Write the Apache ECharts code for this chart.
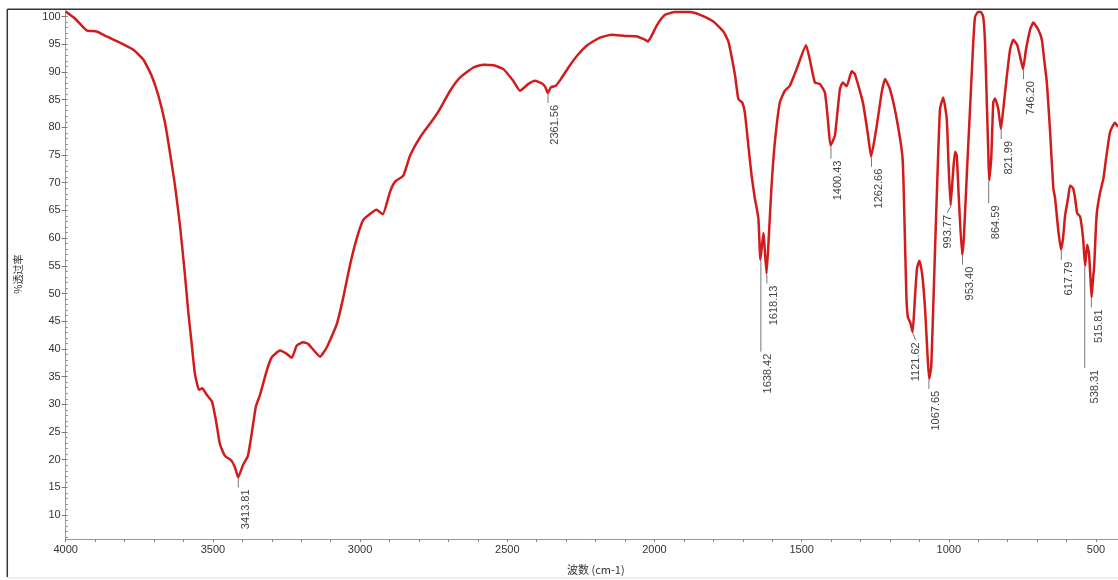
<!DOCTYPE html>
<html>
<head>
<meta charset="utf-8">
<script src="https://cdn.jsdelivr.net/npm/echarts@6/dist/echarts.min.js"></script>
<style>
html,body{margin:0;padding:0;background:#fff;}
#chart{width:1118px;height:580px;}
</style>
</head>
<body>
<div id="chart"></div>
<script>
// ---- data ----
const wavenumber = [4000,3968,3929,3895,3861,3816,3770,3736,3708,3685,3663,3646,3629,3612,3595,3584,3572,3561,3547,3536,3522,3503,3489,3476,3459,3438,3425,3414,3398,3381,3367,3354,3340,3317,3300,3272,3249,3232,3215,3193,3176,3136,3113,3079,3057,3034,3011,2989,2955,2944,2923,2898,2881,2853,2830,2796,2751,2729,2694,2660,2615,2581,2547,2513,2480,2457,2429,2406,2382,2371,2362,2352,2335,2318,2287,2260,2226,2185,2144,2100,2059,2032,2022,2008,1991,1964,1930,1879,1845,1800,1766,1749,1738,1726,1715,1702,1693,1681,1670,1659,1647,1640,1630,1619,1610,1602,1591,1574,1557,1540,1517,1485,1472,1455,1438,1421,1411,1402,1387,1370,1360,1347,1330,1319,1292,1275,1264,1245,1228,1217,1200,1177,1157,1150,1144,1139,1131,1123,1115,1108,1100,1091,1081,1072,1067,1060,1054,1047,1040,1030,1019,1007,1001,994,986,979,973,966,955,949,938,928,917,911,901,891,883,877,871,866,863,856,849,843,832,823,815,803,792,781,768,758,748,738,724,713,696,684,676,667,656,645,639,629,619,612,605,595,588,578,571,564,554,544,537,530,524,519,515,511,506,498,487,475,466,452,436,425];
const transmittance = [100.9,99.6,97.5,97.3,96.4,95.3,94.0,92.2,89.3,85.7,80.9,75.5,69.6,62.4,53.4,46.9,40.9,35.5,32.6,32.9,31.8,30.5,26.9,22.8,20.7,19.9,18.6,16.8,19.0,20.7,25.1,29.6,31.7,36.1,38.5,39.7,39.1,38.4,40.6,41.2,40.9,38.6,40.3,44.5,49.3,55.2,60.0,63.3,64.8,65.1,64.3,68.4,70.2,71.3,74.9,78.2,81.5,83.3,86.6,89.0,90.8,91.3,91.2,90.5,88.4,86.6,87.8,88.4,87.9,87.3,86.2,87.2,87.5,88.7,91.2,93.1,94.9,96.2,96.7,96.5,96.4,95.8,95.5,96.7,98.5,100.3,100.8,100.8,100.3,99.1,97.3,95.5,92.8,89.3,85.1,84.5,82.7,76.7,71.3,67.2,63.6,56.1,60.9,53.6,61.8,69.6,77.3,84.5,86.6,87.5,90.5,94.8,92.2,88.1,87.8,86.3,81.5,76.7,78.5,86.9,88.1,87.4,90.1,89.6,84.5,78.8,74.7,80.2,86.3,88.7,86.9,81.5,74.3,61.8,49.3,45.7,44.8,43.0,49.3,54.6,55.9,53.7,47.5,38.5,34.6,36.7,45.7,57.7,69.0,83.3,85.4,81.5,73.4,65.9,71.6,75.6,74.9,67.2,57.0,60.0,72.5,83.3,95.3,99.9,100.8,100.8,99.9,95.3,84.5,75.6,70.4,74.3,84.5,85.2,83.3,79.7,83.3,89.2,94.0,95.8,94.9,92.8,90.5,94.0,97.6,98.9,97.6,95.8,92.2,88.1,79.2,69.0,67.2,61.8,57.9,60.0,64.1,67.2,69.5,69.0,67.2,64.5,63.9,60.0,55.0,58.8,57.3,52.9,49.3,52.0,55.2,64.1,68.0,70.7,74.3,79.2,80.8,80.1];

const peakWn = [3413.81,2361.56,1638.42,1618.13,1400.43,1262.66,1121.62,1067.65,993.77,953.40,864.59,821.99,746.20,617.79,538.31,515.81];
const peakT = [16.8,86.2,56.1,53.6,76.7,74.7,43.0,34.6,65.9,57.0,70.4,79.7,90.5,57.9,55.0,49.3];
const peakLabel = ['3413.81','2361.56','1638.42','1618.13','1400.43','1262.66','1121.62','1067.65','993.77','953.40','864.59','821.99','746.20','617.79','538.31','515.81'];

const xTickLabels = [4000,3500,3000,2500,2000,1500,1000,500];
const xMinorTicks = [4000,3900,3800,3700,3600,3500,3400,3300,3200,3100,3000,2900,2800,2700,2600,2500,2400,2300,2200,2100,2000,1900,1800,1700,1600,1500,1400,1300,1200,1100,1000,900,800,700,600,500];
const yTickLabels = [10,15,20,25,30,35,40,45,50,55,60,65,70,75,80,85,90,95,100];

// ---- layout of the peak annotations (not data) ----
const labelLayout = {
  '1638.42': {len: 92},
  '538.31': {len: 102, tdx: 10},
  '864.59': {len: 23},
  '993.77': {len: 7.5, ldx: -3.5, tdx: 0.5},
  '1121.62': {len: 8, ldx: 2.5, tdx: 0.5},
  '2361.56': {tdx: 6.5},
  '1400.43': {len: 13}
};

const X_MIN = 425.3, X_MAX = 4000, Y_MIN = 5.69, Y_MAX = 101.3;
const FONT = '"Liberation Sans", Arial, sans-serif';

const chart = echarts.init(document.getElementById('chart'), null, {renderer: 'canvas'});

const spectrum = wavenumber.map((w, i) => [w, transmittance[i]]);
const peaks = peakWn.map((w, i) => [w, peakT[i]]);

chart.setOption({
  animation: false,
  backgroundColor: '#fff',
  grid: {left: 65.7, top: 9.3, right: 0, bottom: 36.7, containLabel: false},
  xAxis: [{
    type: 'value', inverse: true, min: X_MIN, max: X_MAX,
    name: '波数 (cm-1)', nameLocation: 'middle', nameGap: 25,
    nameTextStyle: {fontSize: 11, color: '#333', fontFamily: '"Noto Sans CJK SC", ' + FONT, padding: [0, 0, 0, 8]},
    axisLine: {show: true, onZero: false, lineStyle: {color: '#999', width: 1}},
    axisTick: {show: true, length: 3, customValues: xMinorTicks, lineStyle: {color: '#888'}},
    axisLabel: {show: true, customValues: xTickLabels, margin: 5, fontSize: 11, color: '#333', fontFamily: FONT,
      formatter: function (v) { return String(v); }},
    splitLine: {show: false}
  }],
  yAxis: [{
    type: 'value', min: Y_MIN, max: Y_MAX,
    name: '%透过率', nameLocation: 'middle', nameGap: 42, nameRotate: 90,
    nameTextStyle: {fontSize: 10, color: '#333', fontFamily: '"Noto Sans CJK SC", ' + FONT},
    axisLine: {show: true, lineStyle: {color: '#999', width: 1}},
    axisTick: {show: true, length: 4, customValues: yTickLabels, lineStyle: {color: '#777'}},
    axisLabel: {show: true, customValues: yTickLabels, margin: 5, fontSize: 11, color: '#333', fontFamily: FONT,
      formatter: function (v) { return String(v); }},
    splitLine: {show: false}
  }, {
    type: 'value', min: Y_MIN, max: Y_MAX, position: 'left',
    axisLine: {show: false},
    axisTick: {show: true, inside: true, length: 2,
      customValues: Array.from({length: 95}, (_, k) => 6 + k),
      lineStyle: {color: '#888'}},
    axisLabel: {show: false},
    splitLine: {show: false}
  }],
  graphic: [
    {type: 'line', shape: {x1: 7.3, y1: 9.3, x2: 1118, y2: 9.3}, style: {stroke: '#333', lineWidth: 1.5}, z: 100},
    {type: 'line', shape: {x1: 7.3, y1: 9.3, x2: 7.3, y2: 577}, style: {stroke: '#333', lineWidth: 1.5}, z: 100},
    {type: 'line', shape: {x1: 7.3, y1: 578, x2: 1118, y2: 578}, style: {stroke: '#ddd', lineWidth: 1}, z: 100}
  ],
  series: [{
    type: 'line', data: spectrum, xAxisIndex: 0, yAxisIndex: 0,
    showSymbol: false, smooth: 0.15,
    lineStyle: {color: '#d21c1c', width: 2.5},
    clip: true, z: 3
  }, {
    type: 'custom', data: peaks, xAxisIndex: 0, yAxisIndex: 0,
    encode: {x: 0, y: 1}, z: 4, silent: true,
    renderItem: function (params, api) {
      const i = params.dataIndex;
      const p = api.coord([api.value(0), api.value(1)]);
      const lab = peakLabel[i];
      const lay = labelLayout[lab] || {};
      const len = lay.len != null ? lay.len : 10;
      const ldx = lay.ldx != null ? lay.ldx : 0;
      const tdx = lay.tdx != null ? lay.tdx : 7.5;
      const ex = p[0] + ldx, ey = p[1] + len;
      return {
        type: 'group',
        children: [
          {type: 'line', shape: {x1: p[0], y1: p[1] + 1, x2: ex, y2: ey}, style: {stroke: '#777', lineWidth: 1}},
          {type: 'text', x: ex + tdx, y: ey + 2, rotation: Math.PI / 2,
            style: {text: lab, align: 'right', verticalAlign: 'middle', fill: '#444', font: '11px ' + FONT}}
        ]
      };
    }
  }]
});
</script>
</body>
</html>
